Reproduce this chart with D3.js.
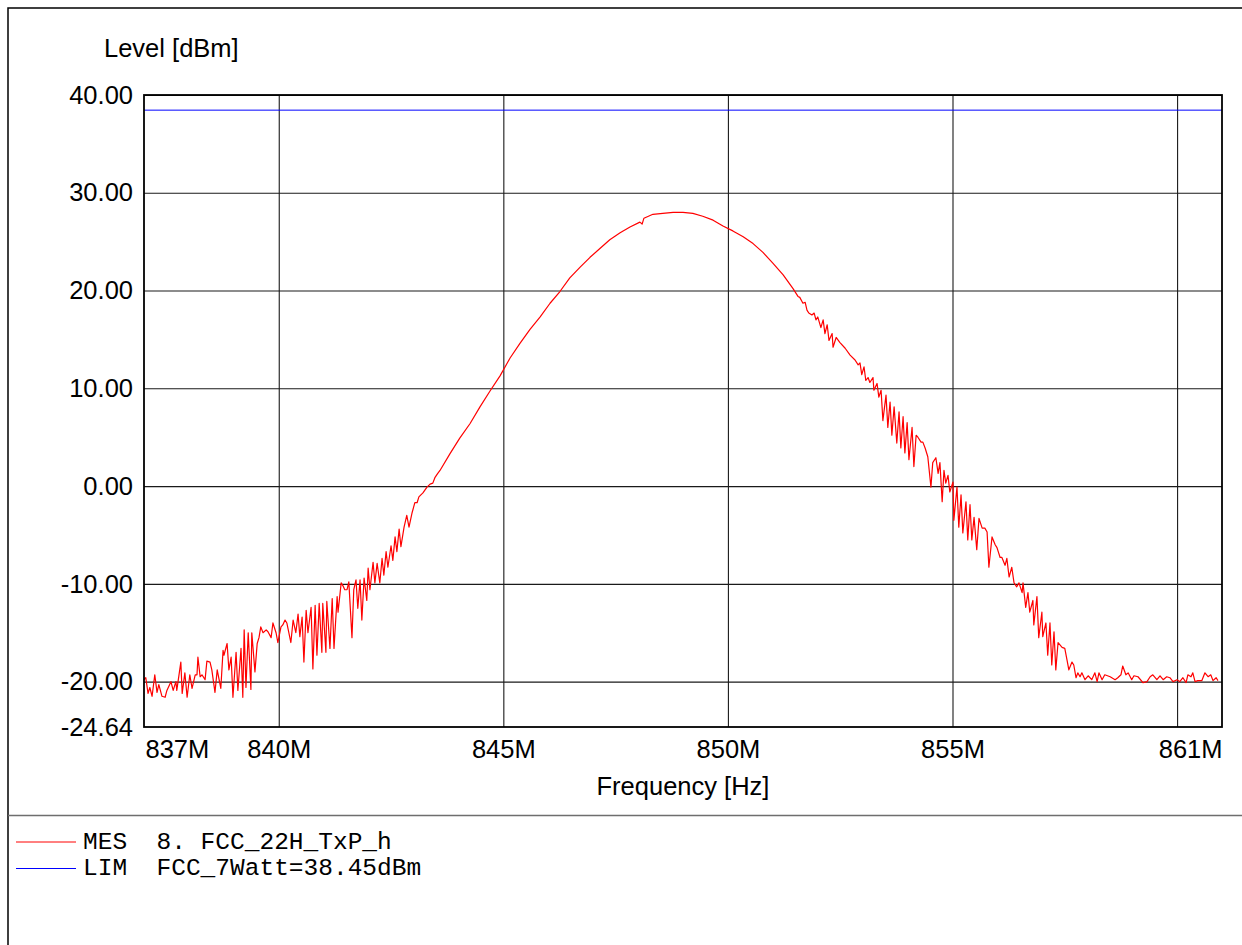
<!DOCTYPE html>
<html>
<head>
<meta charset="utf-8">
<script src="https://cdn.jsdelivr.net/npm/d3@7"></script>
<style>
  body { margin: 0; background: #fff; }
  .axis text { font-family: "Liberation Sans", Arial, sans-serif; font-size: 25.5px; fill: #000; }
</style>
</head>
<body>
<div id="chart"></div>
<script>
var freqMHz = [
  837.00,837.04,837.09,837.13,837.18,837.24,837.29,837.33,837.40,837.47,
  837.51,837.60,837.65,837.71,837.73,837.82,837.85,837.91,837.96,838.02,
  838.07,838.14,838.18,838.20,838.25,838.29,838.36,838.40,838.47,838.51,
  838.58,838.63,838.71,838.76,838.78,838.85,838.89,838.94,838.98,839.05,
  839.09,839.16,839.20,839.23,839.27,839.32,839.38,839.40,839.47,839.52,
  839.56,839.60,839.65,839.72,839.76,839.83,839.87,839.94,839.98,840.05,
  840.09,840.14,840.18,840.27,840.32,840.38,840.43,840.47,840.52,840.56,
  840.61,840.65,840.72,840.76,840.81,840.85,840.90,840.96,840.98,841.05,
  841.07,841.14,841.19,841.23,841.30,841.32,841.39,841.43,841.47,841.52,
  841.56,841.63,841.67,841.72,841.76,841.81,841.85,841.90,841.96,841.99,
  842.03,842.10,842.14,842.19,842.25,842.30,842.34,842.39,842.43,842.50,
  842.54,842.59,842.63,842.68,842.72,842.79,842.85,842.90,842.97,843.03,
  843.08,843.12,843.21,843.30,843.37,843.43,843.48,843.54,843.59,843.81,
  844.03,844.26,844.48,844.70,844.93,845.15,845.37,845.59,845.82,846.04,
  846.26,846.48,846.71,846.93,847.15,847.37,847.60,847.82,848.04,848.09,
  848.13,848.33,848.55,848.78,849.00,849.22,849.44,849.67,849.89,850.11,
  850.34,850.56,850.78,851.00,851.23,851.45,851.56,851.60,851.67,851.72,
  851.76,851.80,851.87,851.92,851.96,852.00,852.07,852.12,852.16,852.21,
  852.25,852.32,852.34,852.41,852.49,852.61,852.72,852.83,852.90,852.94,
  852.98,853.03,853.07,853.12,853.16,853.23,853.25,853.32,853.36,853.41,
  853.45,853.52,853.56,853.61,853.65,853.70,853.76,853.81,853.85,853.90,
  853.94,853.99,854.03,854.10,854.14,854.19,854.23,854.30,854.34,854.39,
  854.45,854.52,854.56,854.63,854.68,854.72,854.77,854.81,854.85,854.90,
  854.94,855.01,855.03,855.10,855.14,855.19,855.23,855.30,855.34,855.39,
  855.43,855.48,855.54,855.59,855.66,855.72,855.77,855.81,855.88,855.95,
  855.99,856.06,856.10,856.17,856.21,856.26,856.32,856.37,856.43,856.48,
  856.55,856.57,856.63,856.68,856.72,856.79,856.81,856.88,856.92,856.99,
  857.01,857.08,857.12,857.17,857.21,857.26,857.30,857.35,857.44,857.50,
  857.55,857.59,857.66,857.70,857.75,857.79,857.84,857.88,857.95,858.02,
  858.10,858.17,858.22,858.26,858.33,858.39,858.51,858.62,858.68,858.75,
  858.79,858.86,858.91,858.99,859.04,859.13,859.24,859.33,859.40,859.46,
  859.55,859.62,859.69,859.77,859.84,859.91,860.00,860.06,860.13,860.20,
  860.24,860.31,860.35,860.40,860.46,860.55,860.62,860.69,860.75,860.80,
  860.87,860.91
];
var levelDbm = [
  -19.8,-19.6,-21.2,-20.6,-21.5,-19.3,-21.1,-20.3,-21.5,-21.6,
  -20.9,-20.0,-20.9,-20.0,-20.9,-18.0,-21.2,-19.1,-21.6,-19.3,
  -20.7,-19.3,-19.3,-17.5,-19.5,-19.3,-19.8,-17.9,-18.0,-18.8,
  -21.1,-18.8,-20.7,-16.8,-17.3,-16.1,-18.8,-17.5,-21.6,-17.0,
  -20.9,-16.6,-21.6,-14.7,-20.6,-15.0,-20.8,-15.0,-19.0,-16.1,
  -15.5,-14.4,-15.0,-14.7,-14.9,-15.5,-14.0,-15.0,-16.0,-14.4,
  -14.2,-13.7,-14.0,-16.0,-13.7,-15.0,-13.1,-15.4,-13.4,-18.0,
  -12.7,-15.0,-12.4,-18.7,-12.2,-17.3,-12.0,-17.0,-12.0,-17.0,
  -11.8,-16.6,-11.5,-16.6,-11.3,-12.9,-9.9,-10.2,-10.6,-10.6,
  -9.8,-15.5,-10.6,-9.6,-12.5,-9.6,-13.7,-9.4,-11.7,-8.4,
  -10.6,-7.8,-9.9,-7.9,-9.9,-7.4,-9.1,-6.7,-8.3,-6.1,
  -7.6,-5.2,-6.7,-4.4,-6.2,-4.2,-3.0,-4.2,-2.7,-1.7,
  -1.7,-1.1,-0.7,-0.1,0.2,0.3,0.9,1.3,1.6,3.3,
  4.9,6.4,8.1,9.7,11.3,13.1,14.6,16.0,17.3,18.7,
  19.9,21.3,22.4,23.4,24.3,25.2,25.9,26.5,27.0,26.8,
  27.4,27.8,27.9,28.0,28.0,27.9,27.6,27.2,26.6,26.1,
  25.5,24.8,23.9,22.8,21.6,20.2,19.4,19.3,18.7,18.8,
  18.0,17.7,17.5,17.7,17.0,17.3,16.2,17.0,15.6,16.5,
  14.9,15.6,14.2,15.2,14.7,14.1,13.4,12.9,12.4,12.6,
  11.4,12.2,10.8,11.1,10.6,11.1,9.8,10.5,9.1,9.8,
  6.7,9.3,6.0,8.6,5.2,8.1,4.4,7.6,3.9,7.1,
  3.4,6.5,2.7,6.0,2.0,5.2,5.0,4.5,4.5,3.9,
  3.0,-0.1,2.4,2.9,1.3,2.4,-1.6,1.6,0.3,1.1,
  -0.6,0.4,-3.5,-0.1,-4.2,-0.9,-4.8,-1.6,-5.5,-1.9,
  -5.5,-3.2,-6.5,-3.3,-4.3,-4.3,-4.7,-8.3,-5.2,-6.0,
  -6.3,-7.3,-7.3,-8.1,-7.4,-9.3,-8.3,-9.9,-10.3,-9.9,
  -10.9,-9.9,-12.4,-10.9,-12.9,-11.7,-14.2,-11.3,-15.5,-12.9,
  -15.4,-14.0,-17.3,-14.0,-18.3,-14.9,-18.8,-16.0,-16.5,-16.6,
  -17.8,-18.8,-18.0,-18.3,-19.6,-19.1,-19.5,-19.1,-19.8,-19.4,
  -19.8,-19.1,-20.0,-19.1,-19.8,-19.3,-19.5,-19.8,-19.6,-19.3,
  -18.4,-19.3,-19.1,-19.8,-19.4,-19.5,-20.1,-20.0,-19.5,-19.3,
  -19.8,-19.4,-19.8,-19.5,-19.6,-20.0,-19.8,-20.0,-19.6,-20.1,
  -19.3,-19.5,-19.1,-20.0,-19.9,-19.9,-19.1,-19.5,-19.3,-19.9,
  -19.6,-19.9
];
var limitDbm = 38.45;
var yTicks = [40, 30, 20, 10, 0, -10, -20, -24.64];
var xGridMHz = [840, 845, 850, 855, 860];
var xLabelMHz = [837, 840, 845, 850, 855, 861];
var legendNames = ["MES", "LIM"];
var legendTexts = ["8. FCC_22H_TxP_h", "FCC_7Watt=38.45dBm"];
var legendColors = ["#ff0000", "#0000ff"];

var W = 1242, H = 945;
var margin = { top: 95, right: 20, bottom: 218, left: 144 },
    width = W - margin.left - margin.right,
    height = H - margin.top - margin.bottom;

var x = d3.scaleLinear().domain([837, 861]).range([0, width]);
var y = d3.scaleLinear().domain([-24.64, 40]).range([height, 0]);

var svg = d3.select("#chart").append("svg")
    .attr("width", W)
    .attr("height", H);

// outer frame + legend separator
svg.append("rect")
    .attr("x", 8).attr("y", 8)
    .attr("width", W + 10).attr("height", H + 10)
    .attr("fill", "none").attr("stroke", "#000").attr("stroke-width", 1.5);
svg.append("line")
    .attr("x1", 8).attr("x2", W).attr("y1", 815.5).attr("y2", 815.5)
    .attr("stroke", "#6e6e6e").attr("stroke-width", 1.5);

var g = svg.append("g")
    .attr("transform", "translate(" + margin.left + "," + margin.top + ")");

// grid lines
g.append("g")
    .attr("class", "grid")
    .call(d3.axisLeft(y).tickValues(yTicks.filter(function(d){ return d > -24; }))
        .tickSize(-width).tickFormat(""))
    .call(function(s){ s.select(".domain").remove(); })
    .selectAll("line").attr("stroke", "#1a1a1a").attr("stroke-width", 1.1);

g.append("g")
    .attr("class", "grid")
    .attr("transform", "translate(0," + height + ")")
    .call(d3.axisBottom(x).tickValues(xGridMHz).tickSize(-height).tickFormat(""))
    .call(function(s){ s.select(".domain").remove(); })
    .selectAll("line").attr("stroke", "#1a1a1a").attr("stroke-width", 1.1);

// y tick labels (plain hyphen minus, as in the original)
g.append("g")
    .attr("class", "axis")
    .call(d3.axisLeft(y).tickValues(yTicks).tickSize(0).tickPadding(11)
        .tickFormat(function(d){ return d.toFixed(2); }))
    .call(function(s){ s.select(".domain").remove(); });

// x tick labels
var xAxis = g.append("g")
    .attr("class", "axis")
    .attr("transform", "translate(0," + height + ")")
    .call(d3.axisBottom(x).tickValues(xLabelMHz).tickSize(0).tickPadding(13)
        .tickFormat(function(d){ return d + "M"; }))
    .call(function(s){ s.select(".domain").remove(); });
xAxis.selectAll("text")
    .attr("text-anchor", function(d){ return d === 837 ? "start" : d === 861 ? "end" : "middle"; })
    .attr("dx", function(d){ return d === 837 ? 1 : 0; });

// limit line
g.append("line")
    .attr("x1", 0).attr("x2", width)
    .attr("y1", y(limitDbm)).attr("y2", y(limitDbm))
    .attr("stroke", "#0000ff").attr("stroke-width", 1);

// measured trace
var trace = freqMHz.map(function(f, i){ return { f: f, v: levelDbm[i] }; });
g.append("path")
    .datum(trace)
    .attr("fill", "none")
    .attr("stroke", "#ff0000")
    .attr("stroke-width", 1.2)
    .attr("stroke-linejoin", "round")
    .attr("d", d3.line().x(function(d){ return x(d.f); }).y(function(d){ return y(d.v); }));

// plot frame
g.append("rect")
    .attr("width", width).attr("height", height)
    .attr("fill", "none").attr("stroke", "#000").attr("stroke-width", 1.8);

// axis titles
svg.append("text")
    .attr("x", 104).attr("y", 57)
    .style("font-family", "'Liberation Sans', Arial, sans-serif")
    .style("font-size", "25.5px")
    .text("Level [dBm]");
svg.append("text")
    .attr("x", margin.left + width / 2).attr("y", 795)
    .attr("text-anchor", "middle")
    .style("font-family", "'Liberation Sans', Arial, sans-serif")
    .style("font-size", "25.5px")
    .text("Frequency [Hz]");

// legend
var leg = svg.selectAll(".leg")
    .data(legendNames)
    .enter().append("g")
    .attr("class", "leg")
    .attr("transform", function(d, i){ return "translate(0," + (842 + i * 26.5) + ")"; });
leg.append("line")
    .attr("x1", 16).attr("x2", 76)
    .attr("stroke", function(d, i){ return legendColors[i]; })
    .attr("stroke-width", 1);
leg.append("text")
    .attr("x", 83).attr("y", 6.5)
    .style("font-family", "'Liberation Mono', 'Courier New', monospace")
    .style("font-size", "24.5px")
    .style("white-space", "pre")
    .attr("xml:space", "preserve")
    .text(function(d, i){ return d + "  " + legendTexts[i]; });
</script>
</body>
</html>
